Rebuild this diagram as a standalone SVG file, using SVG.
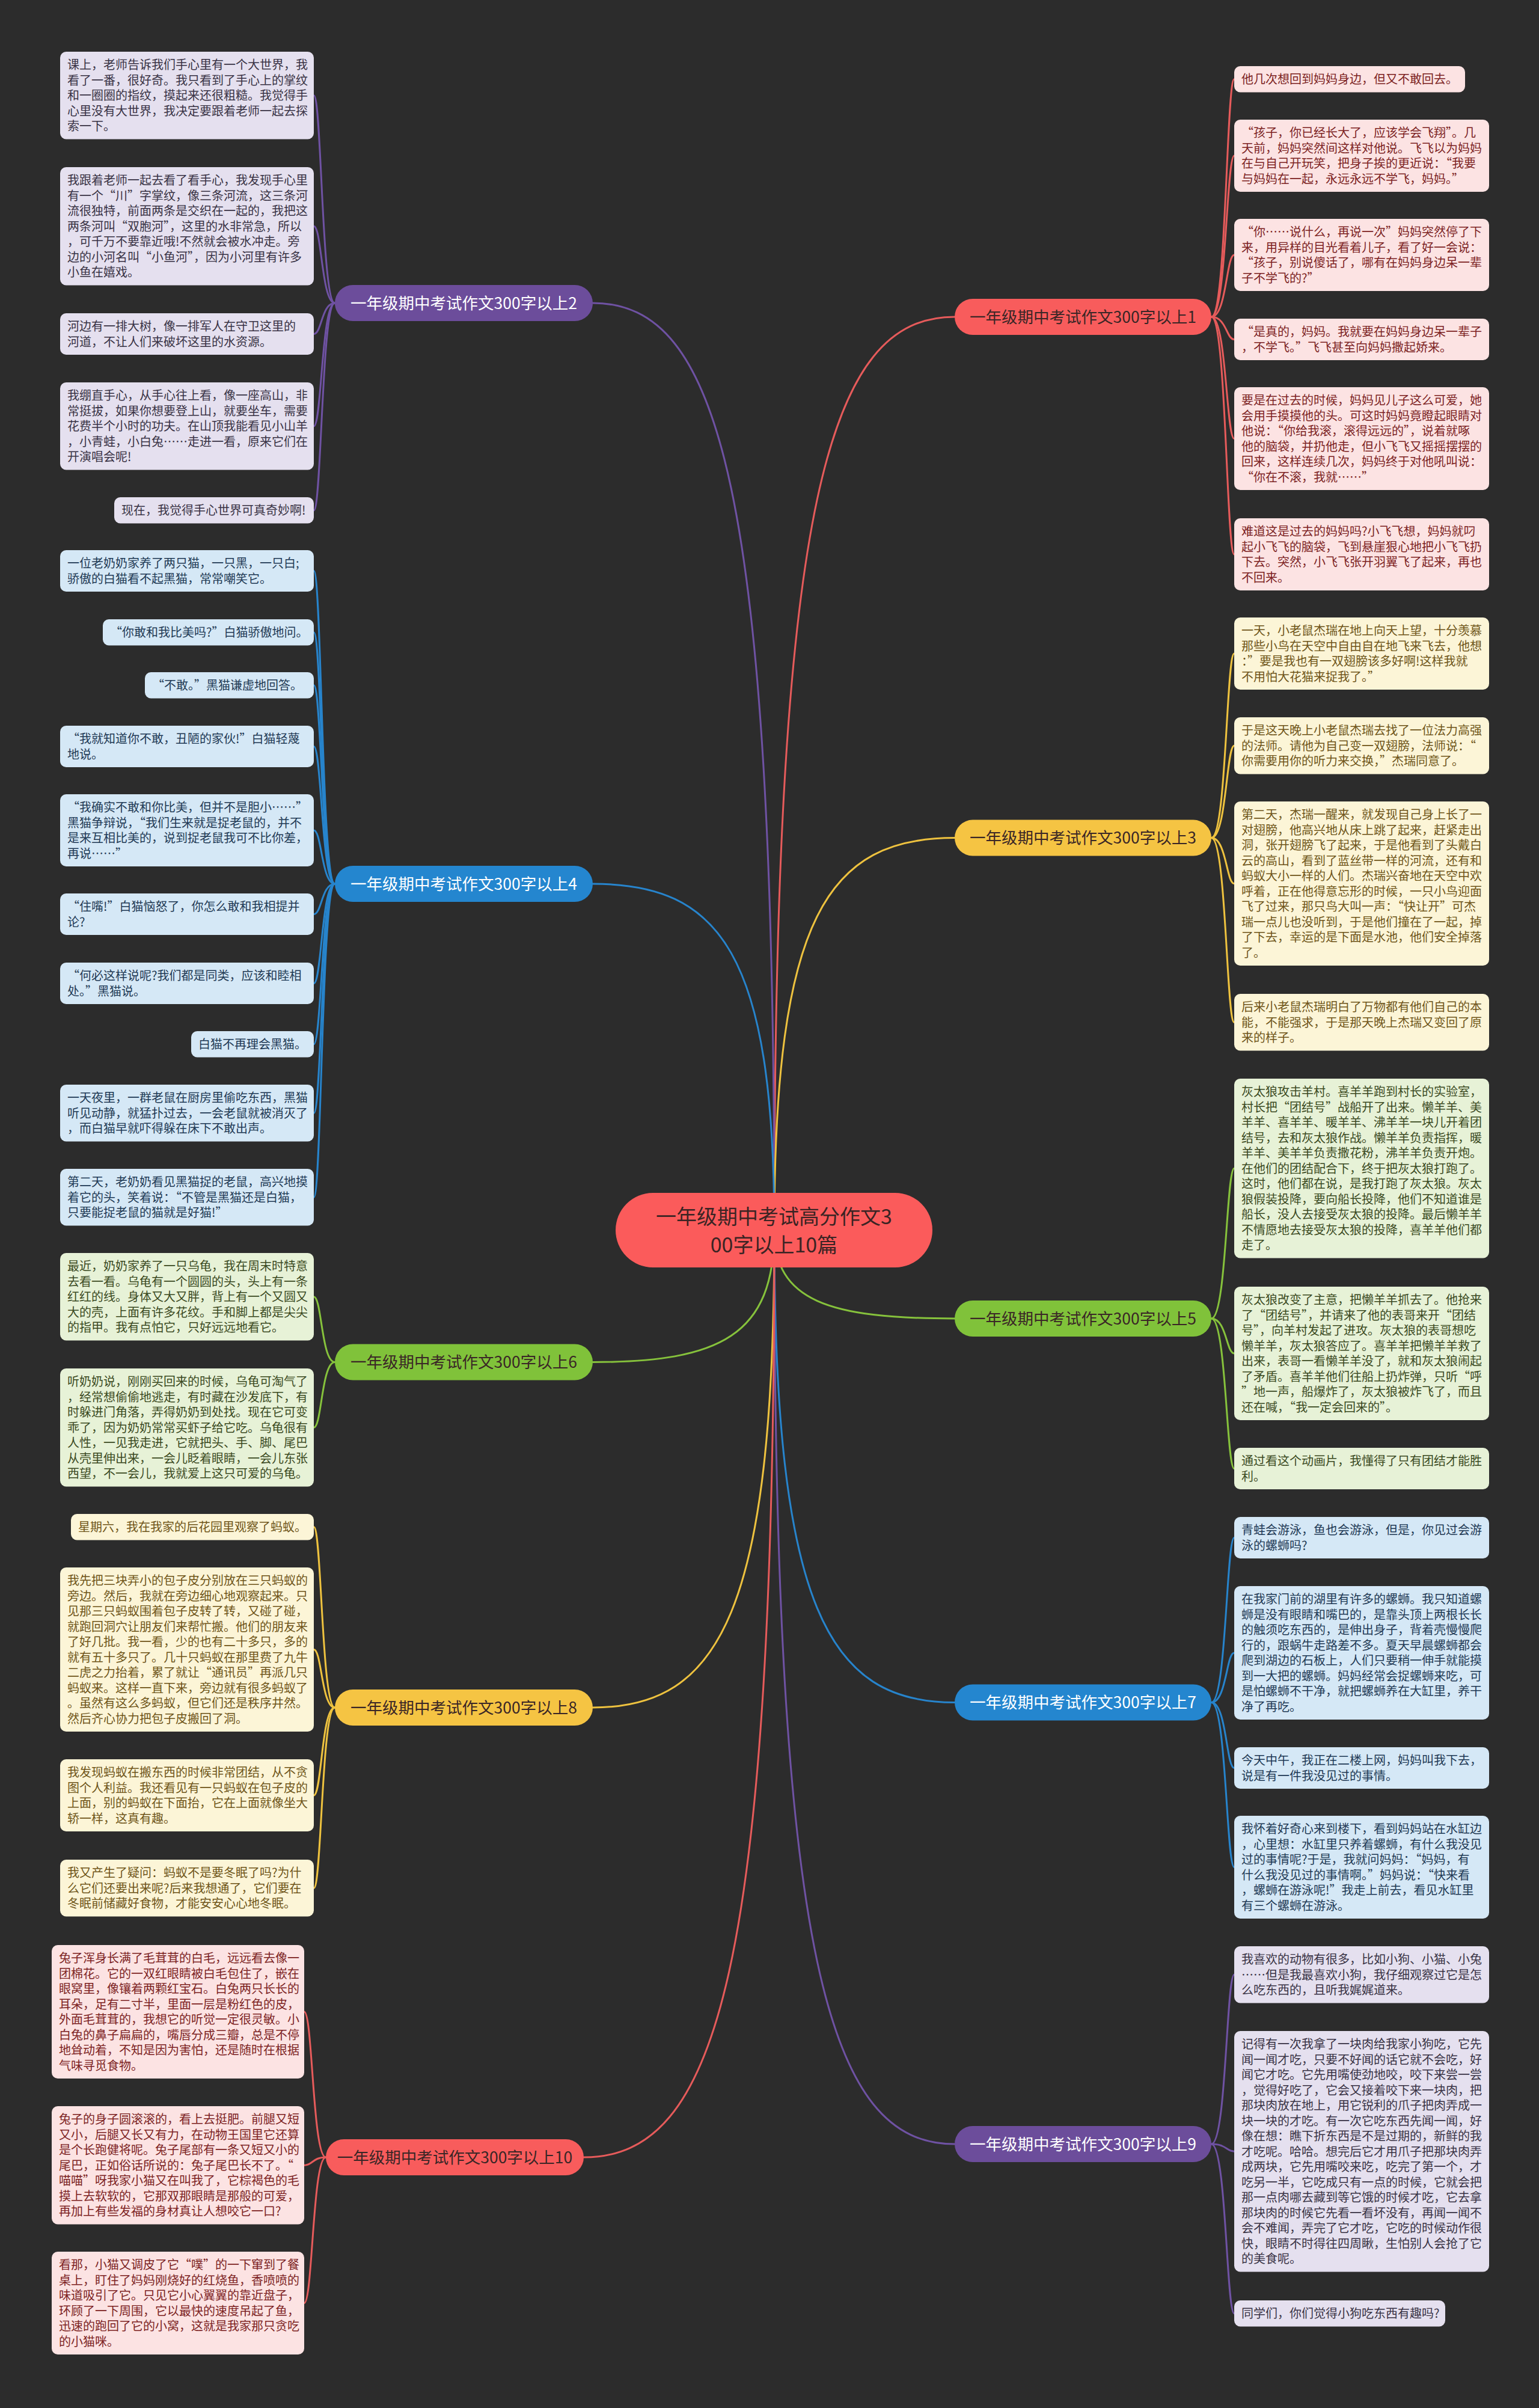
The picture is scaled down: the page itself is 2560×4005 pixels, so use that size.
<svg xmlns="http://www.w3.org/2000/svg" width="2560" height="4005" viewBox="0 0 2560 4005">
<style>
text{font-family:'Noto Sans CJK SC','Noto Sans',sans-serif;}
.lt{font-size:20px;}
.bt{font-size:26.5px;text-anchor:middle;}
.ct{font-size:34px;text-anchor:middle;fill:#3b2424;}
.lr rect{fill:#fce3e3}.lr text{fill:#7d2323}
.lp rect{fill:#e5e0ef}.lp text{fill:#393345}
.lb rect{fill:#d5e8f6}.lb text{fill:#1f3a55}
.lg rect{fill:#e7f2d7}.lg text{fill:#3b4a1f}
.ly rect{fill:#fcf5d7}.ly text{fill:#6f5519}
#connectors path{fill:none;stroke-width:3;stroke-linecap:round}
.cr{stroke:#e65b5b}.cp{stroke:#6f52a3}.cb{stroke:#2784cc}.cg{stroke:#86c23c}.cy{stroke:#eec23f}
.wr{fill:#ffffff}.dk{fill:#3a2626}
</style>
<rect x="0" y="0" width="2560" height="4005" fill="#2c2c2c"/>
<g id="connectors">
<path class="cr" d="M1288 2046 C1288 830.8 1378 527 1588 527"/>
<path class="cp" d="M1288 2046 C1288 812.4 1197.4 504 986 504"/>
<path class="cy" d="M1288 2046 C1288 1524 1378 1393.6 1588 1393.6"/>
<path class="cb" d="M1288 2046 C1288 1585 1197.4 1470 986 1470"/>
<path class="cg" d="M1288 2046 C1288 2163.6 1378 2193 1588 2193"/>
<path class="cg" d="M1288 2046 C1288 2221.6 1197.4 2265.5 986 2265.5"/>
<path class="cb" d="M1288 2046 C1288 2674.4 1378 2831.5 1588 2831.5"/>
<path class="cy" d="M1288 2046 C1288 2681.2 1197.4 2840 986 2840"/>
<path class="cp" d="M1288 2046 C1288 3262 1378 3566 1588 3566"/>
<path class="cr" d="M1288 2046 C1288 3279.6 1192.9 3588 971 3588"/>
<path class="cp" d="M557 504 C535 504 535 158.75 522 158.75"/>
<path class="cp" d="M557 504 C535 504 535 376.25 522 376.25"/>
<path class="cp" d="M557 504 C535 504 535 555.5 522 555.5"/>
<path class="cp" d="M557 504 C535 504 535 708.75 522 708.75"/>
<path class="cp" d="M557 504 C535 504 535 848.75 522 848.75"/>
<path class="cb" d="M557 1470 C535 1470 535 949.5 522 949.5"/>
<path class="cb" d="M557 1470 C535 1470 535 1051.75 522 1051.75"/>
<path class="cb" d="M557 1470 C535 1470 535 1139.75 522 1139.75"/>
<path class="cb" d="M557 1470 C535 1470 535 1241.5 522 1241.5"/>
<path class="cb" d="M557 1470 C535 1470 535 1381 522 1381"/>
<path class="cb" d="M557 1470 C535 1470 535 1520.5 522 1520.5"/>
<path class="cb" d="M557 1470 C535 1470 535 1635.5 522 1635.5"/>
<path class="cb" d="M557 1470 C535 1470 535 1736.75 522 1736.75"/>
<path class="cb" d="M557 1470 C535 1470 535 1851.25 522 1851.25"/>
<path class="cb" d="M557 1470 C535 1470 535 1991.25 522 1991.25"/>
<path class="cg" d="M557 2265.5 C535 2265.5 535 2156.75 522 2156.75"/>
<path class="cg" d="M557 2265.5 C535 2265.5 535 2374.25 522 2374.25"/>
<path class="cy" d="M557 2840 C535 2840 535 2539.75 522 2539.75"/>
<path class="cy" d="M557 2840 C535 2840 535 2743.5 522 2743.5"/>
<path class="cy" d="M557 2840 C535 2840 535 2986 522 2986"/>
<path class="cy" d="M557 2840 C535 2840 535 3140.25 522 3140.25"/>
<path class="cr" d="M542 3588 C520 3588 520 3346 506 3346"/>
<path class="cr" d="M542 3588 C520 3588 520 3601.25 506 3601.25"/>
<path class="cr" d="M542 3588 C520 3588 520 3830.5 506 3830.5"/>
<path class="cr" d="M2015 527 C2040 527 2040 131.75 2053 131.75"/>
<path class="cr" d="M2015 527 C2040 527 2040 259 2053 259"/>
<path class="cr" d="M2015 527 C2040 527 2040 424 2053 424"/>
<path class="cr" d="M2015 527 C2040 527 2040 564.5 2053 564.5"/>
<path class="cr" d="M2015 527 C2040 527 2040 729.5 2053 729.5"/>
<path class="cr" d="M2015 527 C2040 527 2040 922 2053 922"/>
<path class="cy" d="M2015 1393.6 C2040 1393.6 2040 1087 2053 1087"/>
<path class="cy" d="M2015 1393.6 C2040 1393.6 2040 1240.25 2053 1240.25"/>
<path class="cy" d="M2015 1393.6 C2040 1393.6 2040 1469.5 2053 1469.5"/>
<path class="cy" d="M2015 1393.6 C2040 1393.6 2040 1700.25 2053 1700.25"/>
<path class="cg" d="M2015 2193 C2040 2193 2040 1943.25 2053 1943.25"/>
<path class="cg" d="M2015 2193 C2040 2193 2040 2251 2053 2251"/>
<path class="cg" d="M2015 2193 C2040 2193 2040 2442.5 2053 2442.5"/>
<path class="cb" d="M2015 2831.5 C2040 2831.5 2040 2557.5 2053 2557.5"/>
<path class="cb" d="M2015 2831.5 C2040 2831.5 2040 2749 2053 2749"/>
<path class="cb" d="M2015 2831.5 C2040 2831.5 2040 2940.5 2053 2940.5"/>
<path class="cb" d="M2015 2831.5 C2040 2831.5 2040 3105.5 2053 3105.5"/>
<path class="cp" d="M2015 3566 C2040 3566 2040 3284.25 2053 3284.25"/>
<path class="cp" d="M2015 3566 C2040 3566 2040 3578.25 2053 3578.25"/>
<path class="cp" d="M2015 3566 C2040 3566 2040 3847.75 2053 3847.75"/>
</g>
<g id="center">
<rect x="1024" y="1984" width="527" height="124" rx="62" fill="#fb5b5b"/>
<text class="ct" x="1287.5" y="2036">一年级期中考试高分作文3</text>
<text class="ct" x="1287.5" y="2083">00字以上10篇</text>
</g>
<g id="b1"><rect x="1588" y="497" width="427" height="60" rx="30" fill="#f85c5c"/><text class="bt dk" x="1801.5" y="536.5">一年级期中考试作文300字以上1</text></g>
<g id="b2"><rect x="557" y="474" width="429" height="60" rx="30" fill="#6c4d9b"/><text class="bt wr" x="771.5" y="513.5">一年级期中考试作文300字以上2</text></g>
<g id="b3"><rect x="1588" y="1363.6" width="427" height="60" rx="30" fill="#f5c443"/><text class="bt dk" x="1801.5" y="1403">一年级期中考试作文300字以上3</text></g>
<g id="b4"><rect x="557" y="1440" width="429" height="60" rx="30" fill="#2486cf"/><text class="bt wr" x="771.5" y="1479.5">一年级期中考试作文300字以上4</text></g>
<g id="b5"><rect x="1588" y="2163" width="427" height="60" rx="30" fill="#80c23a"/><text class="bt dk" x="1801.5" y="2202.5">一年级期中考试作文300字以上5</text></g>
<g id="b6"><rect x="557" y="2235.5" width="429" height="60" rx="30" fill="#80c23a"/><text class="bt dk" x="771.5" y="2275">一年级期中考试作文300字以上6</text></g>
<g id="b7"><rect x="1588" y="2801.5" width="427" height="60" rx="30" fill="#2486cf"/><text class="bt wr" x="1801.5" y="2841">一年级期中考试作文300字以上7</text></g>
<g id="b8"><rect x="557" y="2810" width="429" height="60" rx="30" fill="#f5c443"/><text class="bt dk" x="771.5" y="2849.5">一年级期中考试作文300字以上8</text></g>
<g id="b9"><rect x="1588" y="3536" width="427" height="60" rx="30" fill="#6c4d9b"/><text class="bt wr" x="1801.5" y="3575.5">一年级期中考试作文300字以上9</text></g>
<g id="b10"><rect x="542" y="3558" width="429" height="60" rx="30" fill="#f85c5c"/><text class="bt dk" x="756.5" y="3597.5">一年级期中考试作文300字以上10</text></g>

<g id="n2a" class="lp"><rect x="100" y="86" width="422" height="145.5" rx="10"/><text class="lt" x="112" y="115"><tspan x="112">课上，老师告诉我们手心里有一个大世界，我</tspan><tspan x="112" dy="25.5">看了一番，很好奇。我只看到了手心上的掌纹</tspan><tspan x="112" dy="25.5">和一圈圈的指纹，摸起来还很粗糙。我觉得手</tspan><tspan x="112" dy="25.5">心里没有大世界，我决定要跟着老师一起去探</tspan><tspan x="112" dy="25.5">索一下。</tspan></text></g>
<g id="n2b" class="lp"><rect x="100" y="278" width="422" height="196.5" rx="10"/><text class="lt" x="112" y="307"><tspan x="112">我跟着老师一起去看了看手心，我发现手心里</tspan><tspan x="112" dy="25.5">有一个“川”字掌纹，像三条河流，这三条河</tspan><tspan x="112" dy="25.5">流很独特，前面两条是交织在一起的，我把这</tspan><tspan x="112" dy="25.5">两条河叫“双胞河”，这里的水非常急，所以</tspan><tspan x="112" dy="25.5">，可千万不要靠近哦!不然就会被水冲走。旁</tspan><tspan x="112" dy="25.5">边的小河名叫“小鱼河”，因为小河里有许多</tspan><tspan x="112" dy="25.5">小鱼在嬉戏。</tspan></text></g>
<g id="n2c" class="lp"><rect x="100" y="521" width="422" height="69" rx="10"/><text class="lt" x="112" y="550"><tspan x="112">河边有一排大树，像一排军人在守卫这里的</tspan><tspan x="112" dy="25.5">河道，不让人们来破坏这里的水资源。</tspan></text></g>
<g id="n2d" class="lp"><rect x="100" y="636" width="422" height="145.5" rx="10"/><text class="lt" x="112" y="665"><tspan x="112">我绷直手心，从手心往上看，像一座高山，非</tspan><tspan x="112" dy="25.5">常挺拔，如果你想要登上山，就要坐车，需要</tspan><tspan x="112" dy="25.5">花费半个小时的功夫。在山顶我能看见小山羊</tspan><tspan x="112" dy="25.5">，小青蛙，小白兔……走进一看，原来它们在</tspan><tspan x="112" dy="25.5">开演唱会呢!</tspan></text></g>
<g id="n2e" class="lp"><rect x="190" y="827" width="332" height="43.5" rx="10"/><text class="lt" x="202" y="856">现在，我觉得手心世界可真奇妙啊!</text></g>

<g id="n4a" class="lb"><rect x="100" y="915" width="422" height="69" rx="10"/><text class="lt" x="112" y="944"><tspan x="112">一位老奶奶家养了两只猫，一只黑，一只白;</tspan><tspan x="112" dy="25.5">骄傲的白猫看不起黑猫，常常嘲笑它。</tspan></text></g>
<g id="n4b" class="lb"><rect x="171" y="1030" width="351" height="43.5" rx="10"/><text class="lt" x="183" y="1059">“你敢和我比美吗?”白猫骄傲地问。</text></g>
<g id="n4c" class="lb"><rect x="241" y="1118" width="281" height="43.5" rx="10"/><text class="lt" x="253" y="1147">“不敢。”黑猫谦虚地回答。</text></g>
<g id="n4d" class="lb"><rect x="100" y="1207" width="422" height="69" rx="10"/><text class="lt" x="112" y="1236"><tspan x="112">“我就知道你不敢，丑陋的家伙!”白猫轻蔑</tspan><tspan x="112" dy="25.5">地说。</tspan></text></g>
<g id="n4e" class="lb"><rect x="100" y="1321" width="422" height="120" rx="10"/><text class="lt" x="112" y="1350"><tspan x="112">“我确实不敢和你比美，但并不是胆小……”</tspan><tspan x="112" dy="25.5">黑猫争辩说，“我们生来就是捉老鼠的，并不</tspan><tspan x="112" dy="25.5">是来互相比美的，说到捉老鼠我可不比你差，</tspan><tspan x="112" dy="25.5">再说……”</tspan></text></g>
<g id="n4f" class="lb"><rect x="100" y="1486" width="422" height="69" rx="10"/><text class="lt" x="112" y="1515"><tspan x="112">“住嘴!”白猫恼怒了，你怎么敢和我相提并</tspan><tspan x="112" dy="25.5">论?</tspan></text></g>
<g id="n4g" class="lb"><rect x="100" y="1601" width="422" height="69" rx="10"/><text class="lt" x="112" y="1630"><tspan x="112">“何必这样说呢?我们都是同类，应该和睦相</tspan><tspan x="112" dy="25.5">处。”黑猫说。</tspan></text></g>
<g id="n4h" class="lb"><rect x="318" y="1715" width="204" height="43.5" rx="10"/><text class="lt" x="330" y="1744">白猫不再理会黑猫。</text></g>
<g id="n4i" class="lb"><rect x="100" y="1804" width="422" height="94.5" rx="10"/><text class="lt" x="112" y="1833"><tspan x="112">一天夜里，一群老鼠在厨房里偷吃东西，黑猫</tspan><tspan x="112" dy="25.5">听见动静，就猛扑过去，一会老鼠就被消灭了</tspan><tspan x="112" dy="25.5">，而白猫早就吓得躲在床下不敢出声。</tspan></text></g>
<g id="n4j" class="lb"><rect x="100" y="1944" width="422" height="94.5" rx="10"/><text class="lt" x="112" y="1973"><tspan x="112">第二天，老奶奶看见黑猫捉的老鼠，高兴地摸</tspan><tspan x="112" dy="25.5">着它的头，笑着说：“不管是黑猫还是白猫，</tspan><tspan x="112" dy="25.5">只要能捉老鼠的猫就是好猫!”</tspan></text></g>

<g id="n6a" class="lg"><rect x="100" y="2084" width="422" height="145.5" rx="10"/><text class="lt" x="112" y="2113"><tspan x="112">最近，奶奶家养了一只乌龟，我在周末时特意</tspan><tspan x="112" dy="25.5">去看一看。乌龟有一个圆圆的头，头上有一条</tspan><tspan x="112" dy="25.5">红红的线。身体又大又胖，背上有一个又圆又</tspan><tspan x="112" dy="25.5">大的壳，上面有许多花纹。手和脚上都是尖尖</tspan><tspan x="112" dy="25.5">的指甲。我有点怕它，只好远远地看它。</tspan></text></g>
<g id="n6b" class="lg"><rect x="100" y="2276" width="422" height="196.5" rx="10"/><text class="lt" x="112" y="2305"><tspan x="112">听奶奶说，刚刚买回来的时候，乌龟可淘气了</tspan><tspan x="112" dy="25.5">，经常想偷偷地逃走，有时藏在沙发底下，有</tspan><tspan x="112" dy="25.5">时躲进门角落，弄得奶奶到处找。现在它可变</tspan><tspan x="112" dy="25.5">乖了，因为奶奶常常买虾子给它吃。乌龟很有</tspan><tspan x="112" dy="25.5">人性，一见我走进，它就把头、手、脚、尾巴</tspan><tspan x="112" dy="25.5">从壳里伸出来，一会儿眨着眼睛，一会儿东张</tspan><tspan x="112" dy="25.5">西望，不一会儿，我就爱上这只可爱的乌龟。</tspan></text></g>

<g id="n8a" class="ly"><rect x="118" y="2518" width="404" height="43.5" rx="10"/><text class="lt" x="130" y="2547">星期六，我在我家的后花园里观察了蚂蚁。</text></g>
<g id="n8b" class="ly"><rect x="100" y="2607" width="422" height="273" rx="10"/><text class="lt" x="112" y="2636"><tspan x="112">我先把三块弄小的包子皮分别放在三只蚂蚁的</tspan><tspan x="112" dy="25.5">旁边。然后，我就在旁边细心地观察起来。只</tspan><tspan x="112" dy="25.5">见那三只蚂蚁围着包子皮转了转，又碰了碰，</tspan><tspan x="112" dy="25.5">就跑回洞穴让朋友们来帮忙搬。他们的朋友来</tspan><tspan x="112" dy="25.5">了好几批。我一看，少的也有二十多只，多的</tspan><tspan x="112" dy="25.5">就有五十多只了。几十只蚂蚁在那里费了九牛</tspan><tspan x="112" dy="25.5">二虎之力抬着，累了就让“通讯员”再派几只</tspan><tspan x="112" dy="25.5">蚂蚁来。这样一直下来，旁边就有很多蚂蚁了</tspan><tspan x="112" dy="25.5">。虽然有这么多蚂蚁，但它们还是秩序井然。</tspan><tspan x="112" dy="25.5">然后齐心协力把包子皮搬回了洞。</tspan></text></g>
<g id="n8c" class="ly"><rect x="100" y="2926" width="422" height="120" rx="10"/><text class="lt" x="112" y="2955"><tspan x="112">我发现蚂蚁在搬东西的时候非常团结，从不贪</tspan><tspan x="112" dy="25.5">图个人利益。我还看见有一只蚂蚁在包子皮的</tspan><tspan x="112" dy="25.5">上面，别的蚂蚁在下面抬，它在上面就像坐大</tspan><tspan x="112" dy="25.5">轿一样，这真有趣。</tspan></text></g>
<g id="n8d" class="ly"><rect x="100" y="3093" width="422" height="94.5" rx="10"/><text class="lt" x="112" y="3122"><tspan x="112">我又产生了疑问：蚂蚁不是要冬眠了吗?为什</tspan><tspan x="112" dy="25.5">么它们还要出来呢?后来我想通了，它们要在</tspan><tspan x="112" dy="25.5">冬眠前储藏好食物，才能安安心心地冬眠。</tspan></text></g>

<g id="n10a" class="lr"><rect x="86" y="3235" width="420" height="222" rx="10"/><text class="lt" x="98" y="3264"><tspan x="98">兔子浑身长满了毛茸茸的白毛，远远看去像一</tspan><tspan x="98" dy="25.5">团棉花。它的一双红眼睛被白毛包住了，嵌在</tspan><tspan x="98" dy="25.5">眼窝里，像镶着两颗红宝石。白兔两只长长的</tspan><tspan x="98" dy="25.5">耳朵，足有二寸半，里面一层是粉红色的皮，</tspan><tspan x="98" dy="25.5">外面毛茸茸的，我想它的听觉一定很灵敏。小</tspan><tspan x="98" dy="25.5">白兔的鼻子扁扁的，嘴唇分成三瓣，总是不停</tspan><tspan x="98" dy="25.5">地耸动着，不知是因为害怕，还是随时在根据</tspan><tspan x="98" dy="25.5">气味寻觅食物。</tspan></text></g>
<g id="n10b" class="lr"><rect x="86" y="3503" width="420" height="196.5" rx="10"/><text class="lt" x="98" y="3532"><tspan x="98">兔子的身子圆滚滚的，看上去挺肥。前腿又短</tspan><tspan x="98" dy="25.5">又小，后腿又长又有力，在动物王国里它还算</tspan><tspan x="98" dy="25.5">是个长跑健将呢。兔子尾部有一条又短又小的</tspan><tspan x="98" dy="25.5">尾巴，正如俗话所说的：兔子尾巴长不了。“</tspan><tspan x="98" dy="25.5">喵喵”呀我家小猫又在叫我了，它棕褐色的毛</tspan><tspan x="98" dy="25.5">摸上去软软的，它那双那眼睛是那般的可爱，</tspan><tspan x="98" dy="25.5">再加上有些发福的身材真让人想咬它一口?</tspan></text></g>
<g id="n10c" class="lr"><rect x="86" y="3745" width="420" height="171" rx="10"/><text class="lt" x="98" y="3774"><tspan x="98">看那，小猫又调皮了它“噗”的一下窜到了餐</tspan><tspan x="98" dy="25.5">桌上，盯住了妈妈刚烧好的红烧鱼，香喷喷的</tspan><tspan x="98" dy="25.5">味道吸引了它。只见它小心翼翼的靠近盘子，</tspan><tspan x="98" dy="25.5">环顾了一下周围，它以最快的速度吊起了鱼，</tspan><tspan x="98" dy="25.5">迅速的跑回了它的小窝，这就是我家那只贪吃</tspan><tspan x="98" dy="25.5">的小猫咪。</tspan></text></g>

<g id="n1a" class="lr"><rect x="2053" y="110" width="384" height="43.5" rx="10"/><text class="lt" x="2065" y="139">他几次想回到妈妈身边，但又不敢回去。</text></g>
<g id="n1b" class="lr"><rect x="2053" y="199" width="424" height="120" rx="10"/><text class="lt" x="2065" y="228"><tspan x="2065">“孩子，你已经长大了，应该学会飞翔”。几</tspan><tspan x="2065" dy="25.5">天前，妈妈突然间这样对他说。飞飞以为妈妈</tspan><tspan x="2065" dy="25.5">在与自己开玩笑，把身子挨的更近说：“我要</tspan><tspan x="2065" dy="25.5">与妈妈在一起，永远永远不学飞，妈妈。”</tspan></text></g>
<g id="n1c" class="lr"><rect x="2053" y="364" width="424" height="120" rx="10"/><text class="lt" x="2065" y="393"><tspan x="2065">“你……说什么，再说一次”妈妈突然停了下</tspan><tspan x="2065" dy="25.5">来，用异样的目光看着儿子，看了好一会说：</tspan><tspan x="2065" dy="25.5">“孩子，别说傻话了，哪有在妈妈身边呆一辈</tspan><tspan x="2065" dy="25.5">子不学飞的?”</tspan></text></g>
<g id="n1d" class="lr"><rect x="2053" y="530" width="424" height="69" rx="10"/><text class="lt" x="2065" y="559"><tspan x="2065">“是真的，妈妈。我就要在妈妈身边呆一辈子</tspan><tspan x="2065" dy="25.5">，不学飞。”飞飞甚至向妈妈撒起娇来。</tspan></text></g>
<g id="n1e" class="lr"><rect x="2053" y="644" width="424" height="171" rx="10"/><text class="lt" x="2065" y="673"><tspan x="2065">要是在过去的时候，妈妈见儿子这么可爱，她</tspan><tspan x="2065" dy="25.5">会用手摸摸他的头。可这时妈妈竟瞪起眼睛对</tspan><tspan x="2065" dy="25.5">他说：“你给我滚，滚得远远的”，说着就啄</tspan><tspan x="2065" dy="25.5">他的脑袋，并扔他走，但小飞飞又摇摇摆摆的</tspan><tspan x="2065" dy="25.5">回来，这样连续几次，妈妈终于对他吼叫说：</tspan><tspan x="2065" dy="25.5">“你在不滚，我就……”</tspan></text></g>
<g id="n1f" class="lr"><rect x="2053" y="862" width="424" height="120" rx="10"/><text class="lt" x="2065" y="891"><tspan x="2065">难道这是过去的妈妈吗?小飞飞想，妈妈就叼</tspan><tspan x="2065" dy="25.5">起小飞飞的脑袋，飞到悬崖狠心地把小飞飞扔</tspan><tspan x="2065" dy="25.5">下去。突然，小飞飞张开羽翼飞了起来，再也</tspan><tspan x="2065" dy="25.5">不回来。</tspan></text></g>

<g id="n3a" class="ly"><rect x="2053" y="1027" width="424" height="120" rx="10"/><text class="lt" x="2065" y="1056"><tspan x="2065">一天，小老鼠杰瑞在地上向天上望，十分羡慕</tspan><tspan x="2065" dy="25.5">那些小鸟在天空中自由自在地飞来飞去，他想</tspan><tspan x="2065" dy="25.5">：”要是我也有一双翅膀该多好啊!这样我就</tspan><tspan x="2065" dy="25.5">不用怕大花猫来捉我了。”</tspan></text></g>
<g id="n3b" class="ly"><rect x="2053" y="1193" width="424" height="94.5" rx="10"/><text class="lt" x="2065" y="1222"><tspan x="2065">于是这天晚上小老鼠杰瑞去找了一位法力高强</tspan><tspan x="2065" dy="25.5">的法师。请他为自己变一双翅膀，法师说：“</tspan><tspan x="2065" dy="25.5">你需要用你的听力来交换，”杰瑞同意了。</tspan></text></g>
<g id="n3c" class="ly"><rect x="2053" y="1333" width="424" height="273" rx="10"/><text class="lt" x="2065" y="1362"><tspan x="2065">第二天，杰瑞一醒来，就发现自己身上长了一</tspan><tspan x="2065" dy="25.5">对翅膀，他高兴地从床上跳了起来，赶紧走出</tspan><tspan x="2065" dy="25.5">洞，张开翅膀飞了起来，于是他看到了头戴白</tspan><tspan x="2065" dy="25.5">云的高山，看到了蓝丝带一样的河流，还有和</tspan><tspan x="2065" dy="25.5">蚂蚁大小一样的人们。杰瑞兴奋地在天空中欢</tspan><tspan x="2065" dy="25.5">呼着，正在他得意忘形的时候，一只小鸟迎面</tspan><tspan x="2065" dy="25.5">飞了过来，那只鸟大叫一声：“快让开”可杰</tspan><tspan x="2065" dy="25.5">瑞一点儿也没听到，于是他们撞在了一起，掉</tspan><tspan x="2065" dy="25.5">了下去，幸运的是下面是水池，他们安全掉落</tspan><tspan x="2065" dy="25.5">了。</tspan></text></g>
<g id="n3d" class="ly"><rect x="2053" y="1653" width="424" height="94.5" rx="10"/><text class="lt" x="2065" y="1682"><tspan x="2065">后来小老鼠杰瑞明白了万物都有他们自己的本</tspan><tspan x="2065" dy="25.5">能，不能强求，于是那天晚上杰瑞又变回了原</tspan><tspan x="2065" dy="25.5">来的样子。</tspan></text></g>

<g id="n5a" class="lg"><rect x="2053" y="1794" width="424" height="298.5" rx="10"/><text class="lt" x="2065" y="1823"><tspan x="2065">灰太狼攻击羊村。喜羊羊跑到村长的实验室，</tspan><tspan x="2065" dy="25.5">村长把“团结号”战船开了出来。懒羊羊、美</tspan><tspan x="2065" dy="25.5">羊羊、喜羊羊、暖羊羊、沸羊羊一块儿开着团</tspan><tspan x="2065" dy="25.5">结号，去和灰太狼作战。懒羊羊负责指挥，暖</tspan><tspan x="2065" dy="25.5">羊羊、美羊羊负责撒花粉，沸羊羊负责开炮。</tspan><tspan x="2065" dy="25.5">在他们的团结配合下，终于把灰太狼打跑了。</tspan><tspan x="2065" dy="25.5">这时，他们都在说，是我打跑了灰太狼。灰太</tspan><tspan x="2065" dy="25.5">狼假装投降，要向船长投降，他们不知道谁是</tspan><tspan x="2065" dy="25.5">船长，没人去接受灰太狼的投降。最后懒羊羊</tspan><tspan x="2065" dy="25.5">不情愿地去接受灰太狼的投降，喜羊羊他们都</tspan><tspan x="2065" dy="25.5">走了。</tspan></text></g>
<g id="n5b" class="lg"><rect x="2053" y="2140" width="424" height="222" rx="10"/><text class="lt" x="2065" y="2169"><tspan x="2065">灰太狼改变了主意，把懒羊羊抓去了。他抢来</tspan><tspan x="2065" dy="25.5">了“团结号”，并请来了他的表哥来开“团结</tspan><tspan x="2065" dy="25.5">号”，向羊村发起了进攻。灰太狼的表哥想吃</tspan><tspan x="2065" dy="25.5">懒羊羊，灰太狼答应了。喜羊羊把懒羊羊救了</tspan><tspan x="2065" dy="25.5">出来，表哥一看懒羊羊没了，就和灰太狼闹起</tspan><tspan x="2065" dy="25.5">了矛盾。喜羊羊他们往船上扔炸弹，只听“呼</tspan><tspan x="2065" dy="25.5">”地一声，船爆炸了，灰太狼被炸飞了，而且</tspan><tspan x="2065" dy="25.5">还在喊，“我一定会回来的”。</tspan></text></g>
<g id="n5c" class="lg"><rect x="2053" y="2408" width="424" height="69" rx="10"/><text class="lt" x="2065" y="2437"><tspan x="2065">通过看这个动画片，我懂得了只有团结才能胜</tspan><tspan x="2065" dy="25.5">利。</tspan></text></g>

<g id="n7a" class="lb"><rect x="2053" y="2523" width="424" height="69" rx="10"/><text class="lt" x="2065" y="2552"><tspan x="2065">青蛙会游泳，鱼也会游泳，但是，你见过会游</tspan><tspan x="2065" dy="25.5">泳的螺蛳吗?</tspan></text></g>
<g id="n7b" class="lb"><rect x="2053" y="2638" width="424" height="222" rx="10"/><text class="lt" x="2065" y="2667"><tspan x="2065">在我家门前的湖里有许多的螺蛳。我只知道螺</tspan><tspan x="2065" dy="25.5">蛳是没有眼睛和嘴巴的，是靠头顶上两根长长</tspan><tspan x="2065" dy="25.5">的触须吃东西的，是伸出身子，背着壳慢慢爬</tspan><tspan x="2065" dy="25.5">行的，跟蜗牛走路差不多。夏天早晨螺蛳都会</tspan><tspan x="2065" dy="25.5">爬到湖边的石板上，人们只要稍一伸手就能摸</tspan><tspan x="2065" dy="25.5">到一大把的螺蛳。妈妈经常会捉螺蛳来吃，可</tspan><tspan x="2065" dy="25.5">是怕螺蛳不干净，就把螺蛳养在大缸里，养干</tspan><tspan x="2065" dy="25.5">净了再吃。</tspan></text></g>
<g id="n7c" class="lb"><rect x="2053" y="2906" width="424" height="69" rx="10"/><text class="lt" x="2065" y="2935"><tspan x="2065">今天中午，我正在二楼上网，妈妈叫我下去，</tspan><tspan x="2065" dy="25.5">说是有一件我没见过的事情。</tspan></text></g>
<g id="n7d" class="lb"><rect x="2053" y="3020" width="424" height="171" rx="10"/><text class="lt" x="2065" y="3049"><tspan x="2065">我怀着好奇心来到楼下，看到妈妈站在水缸边</tspan><tspan x="2065" dy="25.5">，心里想：水缸里只养着螺蛳，有什么我没见</tspan><tspan x="2065" dy="25.5">过的事情呢?于是，我就问妈妈：“妈妈，有</tspan><tspan x="2065" dy="25.5">什么我没见过的事情啊。”妈妈说：“快来看</tspan><tspan x="2065" dy="25.5">，螺蛳在游泳呢!”我走上前去，看见水缸里</tspan><tspan x="2065" dy="25.5">有三个螺蛳在游泳。</tspan></text></g>

<g id="n9a" class="lp"><rect x="2053" y="3237" width="424" height="94.5" rx="10"/><text class="lt" x="2065" y="3266"><tspan x="2065">我喜欢的动物有很多，比如小狗、小猫、小兔</tspan><tspan x="2065" dy="25.5">……但是我最喜欢小狗，我仔细观察过它是怎</tspan><tspan x="2065" dy="25.5">么吃东西的，且听我娓娓道来。</tspan></text></g>
<g id="n9b" class="lp"><rect x="2053" y="3378" width="424" height="400.5" rx="10"/><text class="lt" x="2065" y="3407"><tspan x="2065">记得有一次我拿了一块肉给我家小狗吃，它先</tspan><tspan x="2065" dy="25.5">闻一闻才吃，只要不好闻的话它就不会吃，好</tspan><tspan x="2065" dy="25.5">闻它才吃。它先用嘴使劲地咬，咬下来尝一尝</tspan><tspan x="2065" dy="25.5">，觉得好吃了，它会又接着咬下来一块肉，把</tspan><tspan x="2065" dy="25.5">那块肉放在地上，用它锐利的爪子把肉弄成一</tspan><tspan x="2065" dy="25.5">块一块的才吃。有一次它吃东西先闻一闻，好</tspan><tspan x="2065" dy="25.5">像在想：瞧下折东西是不是过期的，新鲜的我</tspan><tspan x="2065" dy="25.5">才吃呢。哈哈。想完后它才用爪子把那块肉弄</tspan><tspan x="2065" dy="25.5">成两块，它先用嘴咬来吃，吃完了第一个，才</tspan><tspan x="2065" dy="25.5">吃另一半，它吃成只有一点的时候，它就会把</tspan><tspan x="2065" dy="25.5">那一点肉哪去藏到等它饿的时候才吃，它去拿</tspan><tspan x="2065" dy="25.5">那块肉的时候它先看一看坏没有，再闻一闻不</tspan><tspan x="2065" dy="25.5">会不难闻，弄完了它才吃，它吃的时候动作很</tspan><tspan x="2065" dy="25.5">快，眼睛不时得往四周瞅，生怕别人会抢了它</tspan><tspan x="2065" dy="25.5">的美食呢。</tspan></text></g>
<g id="n9c" class="lp"><rect x="2053" y="3826" width="351" height="43.5" rx="10"/><text class="lt" x="2065" y="3855">同学们，你们觉得小狗吃东西有趣吗?</text></g>
</svg>
